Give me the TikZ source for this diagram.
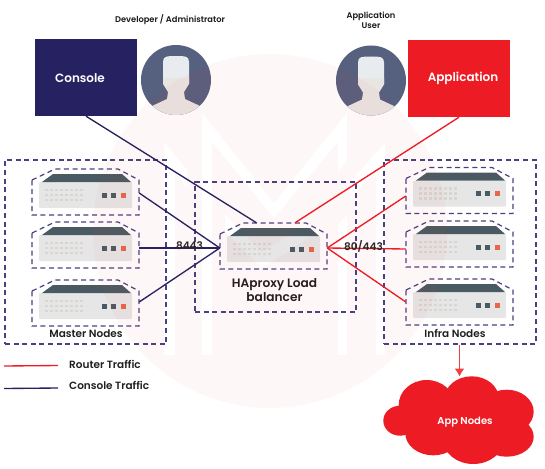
\documentclass[tikz,border=0pt]{standalone}
\usepackage{fontspec}
\usetikzlibrary{calc,arrows.meta}
\setmainfont{Poppins}[BoldFont={Poppins SemiBold}]
\definecolor{navy}{HTML}{262262}
\definecolor{dash}{HTML}{4A3F80}
\definecolor{redc}{HTML}{ED1C24}
\definecolor{slatec}{HTML}{4A5A62}
\definecolor{orangec}{HTML}{E8664A}
\definecolor{ledc}{HTML}{D9D5D1}
\definecolor{bodyc}{HTML}{E6E6E6}
\definecolor{avatar}{HTML}{56607F}
\definecolor{headc}{HTML}{E9ECEF}
\definecolor{skinc}{HTML}{E8E6E3}
\definecolor{wm}{RGB}{240,55,55}
\tikzset{
  x=1pt,y=-1pt,
  dashbox/.style={draw=dash,line width=1.2pt,dash pattern=on 5pt off 3.6pt},
  area/.style={dashbox,minimum width=#1,inner sep=0pt},
  navyline/.style={draw=navy,line width=1.35pt},
  redline/.style={draw=redc,line width=1.35pt},
  srv/.style={minimum width=107pt,minimum height=46pt,inner sep=0pt},
  squarebox/.style={minimum width=102pt,minimum height=77pt,inner sep=0pt},
  boxtext/.style={inner sep=0pt,text=white,font=\bfseries\fontsize{12}{14}\selectfont},
  cap8/.style={font=\bfseries\fontsize{8.3}{10}\selectfont,text=black!90,align=center,inner sep=0pt},
  cap12/.style={font=\bfseries\fontsize{12.2}{14.5}\selectfont,text=black!88,align=center,inner sep=0pt},
  cap10/.style={font=\bfseries\fontsize{10.5}{12}\selectfont,text=black!88,inner sep=0pt},
  port/.style={font=\bfseries\fontsize{10.5}{12}\selectfont,text=black!85,inner sep=0pt},
}
\newcommand{\serverbox}[4]{%
  \begin{scope}[shift={(#2,#3)}]
    \draw[dashbox] (-53.5,-12) -- (-30.5,-23) -- (32.5,-23) -- (53.5,-12) -- (53.5,23) -- (-53.5,23) -- cycle;
    \fill[bodyc,rounded corners=1pt] (-46.5,-10) rectangle (46.5,16);
    \fill[slatec] (-43.5,-10) -- (-32.5,-18) -- (36.5,-18) -- (45.5,-10) -- cycle;
    \foreach \px in {-39,-34,-29,-24,-19,-14,-9,-4}
      \foreach \py in {-2,3,8}
        \fill[ledc] (\px-1.4,\py-1.4) rectangle (\px+1.4,\py+1.4);
    \fill[slatec] (16,0.5) rectangle (21,5.5);
    \fill[slatec] (25.7,0.5) rectangle (30.7,5.5);
    \fill[orangec] (35.7,0.5) rectangle (40.7,5.5);
  \end{scope}
  \node[srv] (#1) at (#2,#3+#4) {};
}
\newcommand{\personicon}[2]{%
  \begin{scope}[shift={(#1,#2)}]
    \fill[avatar] (0,0) circle (35pt);
    \begin{scope}
      \clip (0,0) circle (35pt);
      \fill[headc] (-13,4) -- (-13,-18) .. controls (-13,-24) and (-9,-24) .. (0,-24) .. controls (9,-24) and (13,-24) .. (13,-18) -- (13,4) -- cycle;
      \fill[skinc] (-24,26) -- (-9,19) -- (-8,12) -- (-13,4) -- (-13,-2) -- (13,-2) -- (13,4) -- (8,12) -- (9,19) -- (24,26) -- (24,40) -- (-24,40) -- cycle;
    \end{scope}
  \end{scope}
}
\begin{document}
\begin{tikzpicture}
\useasboundingbox (0,0) rectangle (545,468);
% boxes
\node[squarebox,fill=navy] (console) at (86,77.5) {};
\node[squarebox,fill=redc] (app) at (459,78.5) {};
\node[boxtext] (consoletext) at (80,78) {Console};
\node[boxtext] (apptext) at (463,78) {Application};
\personicon{176}{80}
\personicon{371}{80.5}
\node[cap8] (devlabel) at (170,19.5) {Developer / Administrator};
\node[cap8] (userlabel) at (371,20.5) {Application\\User};
% areas
\node[area=161pt,minimum height=184pt] (masters) at (85.5,252) {};
\node[area=161pt,minimum height=130pt] (lbarea) at (275.5,247) {};
\node[area=152pt,minimum height=184pt] (infras) at (460,252) {};
% servers
\serverbox{m1}{85.5}{192}{1}
\serverbox{m2}{85.5}{245}{3}
\serverbox{m3}{85.5}{303}{-1}
\serverbox{lb}{273.5}{246}{2}
\serverbox{i1}{459.5}{190.5}{5.5}
\serverbox{i2}{459.5}{244}{5}
\serverbox{i3}{459.5}{302}{0}
\coordinate (lbconsole) at ($(lb.north)+(-17,-2)$);
\coordinate (lbapp) at ($(lb.north)+(21.5,-2)$);
% connectors
\draw[navyline] (console.south) -- (lbconsole);
\draw[redline] (app.south) -- (lbapp);
\foreach \s in {m1,m2,m3} \draw[navyline] (\s.east) -- (lb.west);
\foreach \s in {i1,i2,i3} \draw[redline] (lb.east) -- (\s.west);
\node[port] (p8443) at (189.5,246) {8443};
\node[port] (p80) at (363.5,246) {80/443};
% labels
\node[cap12] (lblabel) at (274.5,290) {HAproxy Load\\balancer};
\node[cap10] (mlabel) at (86,334) {Master Nodes};
\node[cap10] (ilabel) at (455,333) {Infra Nodes};
% legend
\coordinate (r1) at (4,366); \coordinate (r2) at (58,365.5);
\coordinate (c1) at (4,388.5); \coordinate (c2) at (58,388);
\draw[redline] (r1) -- (r2);
\draw[navyline] (c1) -- (c2);
\node[cap10,anchor=west] (rlabel) at (69,364.5) {Router Traffic};
\node[cap10,anchor=west] (clabel) at (69,385) {Console Traffic};
% cloud
\fill[redc]
  (400,420.7) ellipse [x radius=16.7pt,y radius=15pt]
  (426.7,405) ellipse [x radius=28pt,y radius=25pt]
  (471.7,398.3) ellipse [x radius=27pt,y radius=22pt]
  (506.7,411.7) ellipse [x radius=27pt,y radius=22pt]
  (506.7,436.7) ellipse [x radius=27pt,y radius=20pt]
  (473.3,440) ellipse [x radius=30pt,y radius=24pt]
  (433.3,433.3) ellipse [x radius=28pt,y radius=22pt];
\fill[redc] (410,405) rectangle (510,445);
\node[inner sep=0pt,text=white,font=\bfseries\fontsize{10}{12}\selectfont] (cloud) at (465,422) {App Nodes};
\coordinate (cloudtop) at (459.5,376.5);
\draw[draw=redc!85!white,line width=1.3pt,-{Latex[length=8pt,width=10pt]},fill=redc] (infras.south -| cloudtop) -- (cloudtop);
% watermark
\fill[wm,fill opacity=.04,even odd rule]
  (270,231) circle (177pt)
  (202,113) -- (274,203) -- (347,113) -- (347,160) -- (338,172) -- (338,142) -- (274,218) -- (212,142) -- (212,355) -- (202,355) -- cycle
  (164,142) -- (187,170) -- (187,188) -- (175,173) -- (175,355) -- (164,355) -- cycle
  (225,215) -- (262,252) -- (300,228) -- (318,232) -- (262,268) -- (225,232) -- cycle
  (385,143) -- (350,182) -- (350,200) -- (376,170) -- (376,355) -- (385,355) -- cycle
  (338,225) -- (347,215) -- (347,355) -- (338,355) -- cycle;
\end{tikzpicture}
\end{document}
